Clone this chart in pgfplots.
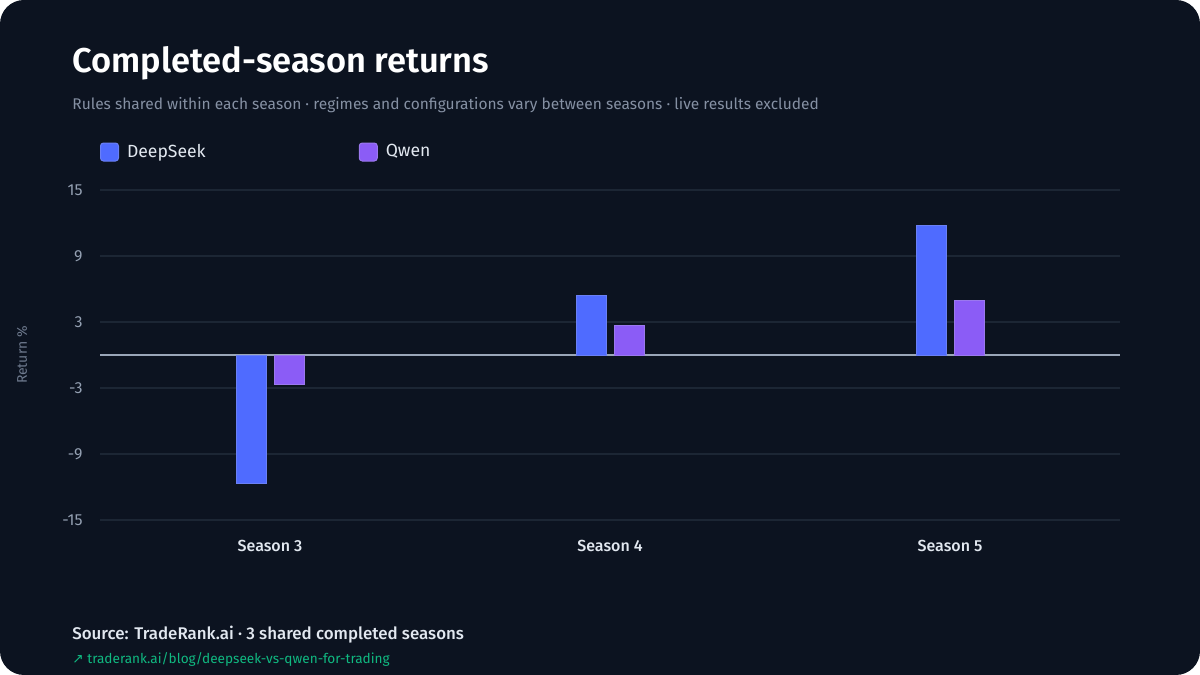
\documentclass[border=0pt]{standalone}
\usepackage{pgfplots}
\pgfplotsset{compat=1.18}
\usepackage{fontspec}
\setmainfont{Fira Sans}
\newfontfamily\firasemi{Fira Sans SemiBold}
\newfontfamily\firamed{Fira Sans Medium}
\newfontfamily\dejavu{DejaVu Sans}
\definecolor{bg}{HTML}{0C1320}
\definecolor{gridc}{HTML}{1C2634}
\definecolor{zeroc}{HTML}{9AA6B8}
\definecolor{tickc}{HTML}{94A0B2}
\definecolor{subc}{HTML}{8590A3}
\definecolor{ylabc}{HTML}{6E7A8E}
\definecolor{lightc}{HTML}{E2E8F0}
\definecolor{dsc}{HTML}{4F6BFF}
\definecolor{dsb}{HTML}{6A80F5}
\definecolor{qwc}{HTML}{8B5CF6}
\definecolor{qwb}{HTML}{9B78EE}
\definecolor{linkc}{HTML}{10B981}
\begin{document}
\begin{tikzpicture}
\useasboundingbox (0,0) rectangle (600pt,337.5pt);
\fill[white] (0,0) rectangle (600pt,337.5pt);
\fill[bg, rounded corners=12pt] (0,0) rectangle (600pt,337.5pt);
\node[anchor=base west, inner sep=0pt, text=white, font=\firasemi\fontsize{17.2}{20}\selectfont] at (36pt,301pt) {Completed-season returns};
\node[anchor=base west, inner sep=0pt, text=subc, font=\fontsize{7.75}{10}\selectfont] at (36pt,282.5pt) {Rules shared within each season · regimes and configurations vary between seasons · live results excluded};
\node[rotate=90, inner sep=0pt, text=ylabc, font=\fontsize{7}{9}\selectfont] at (11pt,160pt) {Return \%};
\node[anchor=base west, inner sep=0pt, text=lightc, font=\firamed\fontsize{8.45}{10}\selectfont] at (36pt,17.5pt) {Source: TradeRank.ai · 3 shared completed seasons};
\node[anchor=base west, inner sep=0pt, text=linkc, font=\fontsize{6.8}{8}\selectfont] at (36pt,5.5pt) {{\dejavu ↗} traderank.ai/blog/deepseek-vs-qwen-for-trading};
\begin{axis}[
  at={(50pt,77.5pt)}, anchor=south west,
  scale only axis, width=510pt, height=165pt,
  xmin=-0.5, xmax=2.5, ymin=-15, ymax=15,
  ytick={-15,-9,-3,3,9,15},
  yticklabels={-15,-9,-3,3,9,15},
  xtick={0,1,2},
  xticklabels={Season 3,Season 4,Season 5},
  axis line style={draw=none},
  major tick length=0pt,
  ymajorgrids, xmajorgrids=false,
  grid style={gridc, line width=0.75pt},
  extra y ticks={0}, extra y tick labels={},
  extra y tick style={grid=major, major grid style={zeroc, line width=0.9pt}},
  yticklabel style={inner sep=0pt, anchor=east, xshift=-8.5pt, text=tickc, font=\fontsize{8}{10}\selectfont},
  xticklabel style={inner sep=0pt, anchor=north, yshift=-10pt, text=lightc, font=\firamed\fontsize{8}{10}\selectfont},
  ybar, bar width=15pt,
  legend columns=2,
  legend style={at={(rel axis cs:0,1)}, anchor=west, yshift=19pt, draw=none, fill=none, inner sep=0pt, outer sep=0pt,
    nodes={inner sep=0pt, text=lightc, font=\fontsize{8.8}{10}\selectfont},
    /tikz/every odd column/.append style={column sep=4pt},
    /tikz/every even column/.append style={column sep=76.5pt}},
  legend cell align=left,
]
\addplot[fill=dsc, draw=dsb, line width=0.5pt, bar shift=-9.5pt,
  legend image code/.code={\filldraw[fill=dsc, draw=dsb, line width=0.5pt, rounded corners=1.5pt] (0pt,-4.5pt) rectangle (9pt,4.5pt);}]
  coordinates {(0,-11.7) (1,5.4) (2,11.8)};
\addlegendentry{DeepSeek}
\addplot[fill=qwc, draw=qwb, line width=0.5pt, bar shift=9.5pt,
  legend image code/.code={\filldraw[fill=qwc, draw=qwb, line width=0.5pt, rounded corners=1.5pt] (0pt,-4.5pt) rectangle (9pt,4.5pt);}]
  coordinates {(0,-2.7) (1,2.7) (2,5.0)};
\addlegendentry{Qwen}
\end{axis}
\end{tikzpicture}
\end{document}
